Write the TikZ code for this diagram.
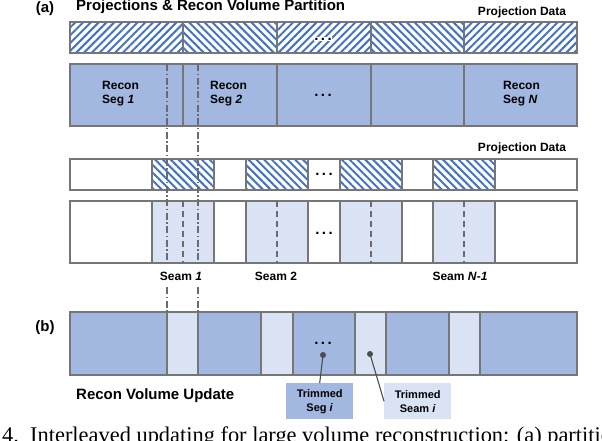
\documentclass[tikz,border=0pt]{standalone}
\usepackage{fontspec}
\setmainfont{Liberation Sans}
\newfontfamily\capfont{Liberation Serif}
\usetikzlibrary{patterns.meta}
\definecolor{bord}{HTML}{767676}
\definecolor{darkfill}{HTML}{A2B8E0}
\definecolor{lightfill}{HTML}{DAE3F3}
\definecolor{hatch}{HTML}{4472C4}
\definecolor{dline}{HTML}{6B6B6B}
\definecolor{dotc}{HTML}{4D4D4D}
\begin{document}
\begin{tikzpicture}[x=1pt,y=-1pt,
  cell/.style={draw=bord, line width=2.2pt, inner sep=0pt, outer sep=0pt, anchor=north west},
  sz/.style 2 args={minimum width=#1pt, minimum height=#2pt},
  hne/.style={cell, pattern={Lines[angle=45,distance=5.5pt,line width=2pt]}, pattern color=hatch},
  hnw/.style={cell, pattern={Lines[angle=-45,distance=5.5pt,line width=2pt]}, pattern color=hatch},
  dk/.style={cell, fill=darkfill},
  lt/.style={cell, fill=lightfill},
  wt/.style={cell, fill=white},
  lbl/.style={font=\bfseries\fontsize{12}{14}\selectfont, inner sep=1pt},
  big/.style={font=\bfseries\fontsize{15}{18}\selectfont, inner sep=0pt},
  ell/.style={font=\bfseries\fontsize{15}{16}\selectfont, inner sep=0.5pt, anchor=base},
  dashdot/.style={draw=dline, line width=1.1pt, dash pattern=on 7pt off 2.5pt on 1.5pt off 2.5pt},
  seamline/.style={draw=dline, line width=2pt, dash pattern=on 6pt off 4pt},
  leader/.style={draw=dotc, line width=1.1pt},
  dotn/.style={circle, fill=dotc, inner sep=0pt, minimum size=6pt},
  tag/.style={font=\bfseries\fontsize{11}{14}\selectfont, align=center, inner sep=0pt, anchor=north west}
]
\useasboundingbox (0,0) rectangle (602,440);

% titles
\node[big] (ta) at (45,9) {(a)};
\node[big, anchor=west] (title) at (76,7) {Projections \& Recon Volume Partition};
\node[lbl] (pd1) at (522,12) {Projection Data};

% top projection bar
\node[hne, sz={113}{31}] (p1) at (70,22) {};
\node[hnw, sz={94}{31}] (p2) at (183,22) {};
\node[hne, sz={94}{31}] (p3) at (277,22) {};
\node[hnw, sz={93}{31}] (p4) at (371,22) {};
\node[hne, sz={113}{31}] (p5) at (464,22) {};
\node[ell, fill=white] (e1) at (323,40) {.\kern2.5pt.\kern2.5pt.};

% recon bar
\node[dk, sz={113}{62}] (r1) at (70,64) {};
\node[dk, sz={94}{62}] (r2) at (183,64) {};
\node[dk, sz={94}{62}] (r3) at (277,64) {};
\node[dk, sz={93}{62}] (r4) at (371,64) {};
\node[dk, sz={113}{62}] (r5) at (464,64) {};
\node[lbl, anchor=west, align=left] (rs1) at (101,94) {Recon\\Seg \textit{1}};
\node[lbl, anchor=west, align=left] (rs2) at (209,94) {Recon\\Seg \textit{2}};
\node[lbl, anchor=west, align=left] (rsn) at (502,94) {Recon\\Seg \textit{N}};
\node[ell] (e2) at (323,96) {.\kern2.5pt.\kern2.5pt.};

% second projection row
\node[lbl] (pd2) at (522,148) {Projection Data};
\node[wt, sz={507}{31}] (m0) at (70,159) {};
\node[hnw, sz={62}{31}] (h1) at (152,159) {};
\node[hnw, sz={62}{31}] (h2) at (246,159) {};
\node[hnw, sz={62}{31}] (h3) at (340,159) {};
\node[hnw, sz={62}{31}] (h4) at (433,159) {};
\node[ell] (e3) at (324,175) {.\kern2.5pt.\kern2.5pt.};

% seam row
\node[wt, sz={507}{62}] (l0) at (70,201) {};
\node[lt, sz={62}{62}] (s1) at (152,201) {};
\node[lt, sz={62}{62}] (s2) at (246,201) {};
\node[lt, sz={62}{62}] (s3) at (340,201) {};
\node[lt, sz={62}{62}] (s4) at (433,201) {};
\node[ell] (e4) at (324,234) {.\kern2.5pt.\kern2.5pt.};
\foreach \s in {s1,s2,s3,s4}{
  \draw[seamline] (\s.north) -- (\s.south);
}
\node[lbl] (sl1) at (181,276) {Seam \textit{1}};
\node[lbl] (sl2) at (276,276) {Seam 2};
\node[lbl] (sln) at (460,276) {Seam \textit{N}-\textit{1}};

% (b) row
\node[big] (tb) at (45,328) {(b)};
\node[dk, sz={97}{63}] (b1) at (70,312) {};
\node[lt, sz={31}{63}] (b2) at (167,312) {};
\node[dk, sz={63}{63}] (b3) at (198,312) {};
\node[lt, sz={32}{63}] (b4) at (261,312) {};
\node[dk, sz={62}{63}] (b5) at (293,312) {};
\node[lt, sz={31}{63}] (b6) at (355,312) {};
\node[dk, sz={63}{63}] (b7) at (386,312) {};
\node[lt, sz={31}{63}] (b8) at (449,312) {};
\node[dk, sz={97}{63}] (b9) at (480,312) {};
\node[ell] (e5) at (323,344) {.\kern2.5pt.\kern2.5pt.};

% dash-dot guide lines
\coordinate (g1a) at (167,64);
\coordinate (g1b) at (167,263);
\coordinate (g1c) at (167,287);
\coordinate (g2a) at (198,64);
\coordinate (g2b) at (198,263);
\coordinate (g2c) at (198,287);
\draw[dashdot] (g1a) -- (g1b);
\draw[dashdot] (g2a) -- (g2b);
\draw[dashdot] (g1c) -- (b2.north west);
\draw[dashdot] (g2c) -- (b2.north east);

% trimmed labels
\node[big, anchor=west] (rvu) at (76,396) {Recon Volume Update};
\node[tag, fill=darkfill, minimum width=67pt, minimum height=36pt] (tseg) at (286,383) {Trimmed\\Seg \textit{i}};
\node[tag, fill=lightfill, minimum width=67pt, minimum height=36pt] (tseam) at (384,383) {Trimmed\\Seam \textit{i}};
\node[dotn] (d1) at (323,355) {};
\node[dotn] (d2) at (370,354) {};
\draw[leader] (d1.center) -- (tseg.north);
\draw[leader] (d2.center) -- (tseam.west);

% caption fragment
\begin{scope}
\clip (0,0) rectangle (602,440);
\node[font=\capfont\fontsize{22.4}{26}\selectfont, inner sep=0pt, anchor=base west] (cap) at (30,442) {Interleaved updating for large volume reconstruction: (a) partitioning};
\node[font=\capfont\fontsize{22.4}{26}\selectfont, inner sep=0pt, anchor=base east] (capn) at (19.2,442) {Fig. 4.};
\end{scope}
\end{tikzpicture}
\end{document}
